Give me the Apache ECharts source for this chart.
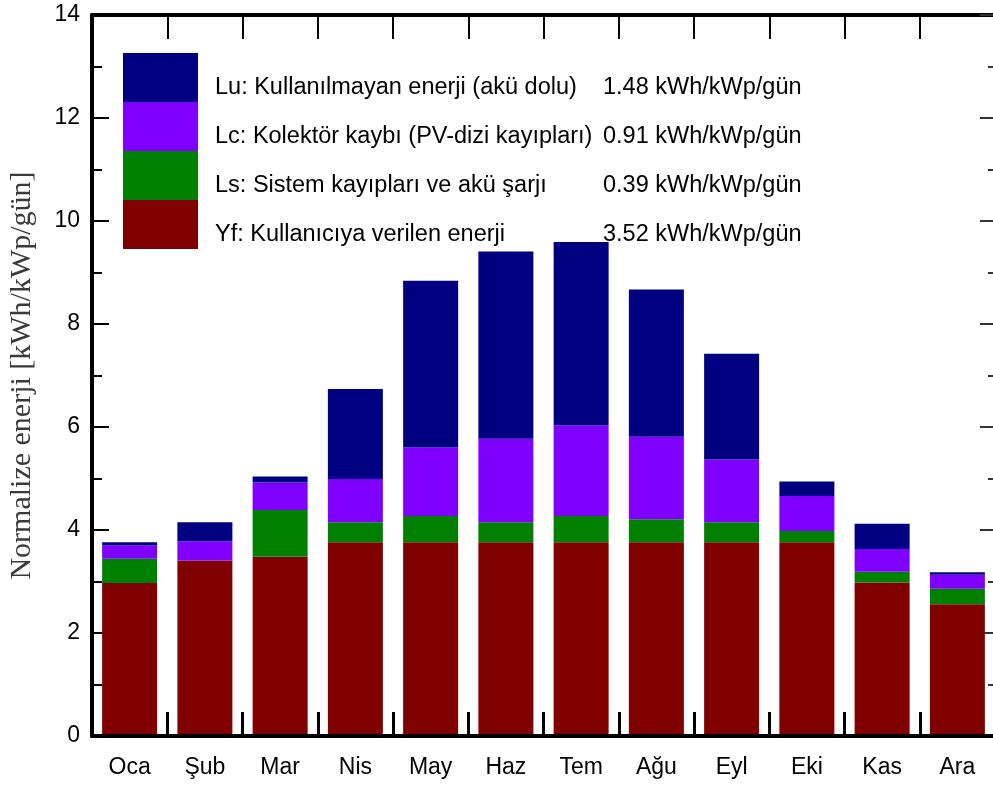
<!DOCTYPE html>
<html>
<head>
<meta charset="utf-8">
<script src="https://cdn.jsdelivr.net/npm/echarts@6/dist/echarts.min.js"></script>
<style>
  html, body { margin: 0; padding: 0; background: #fff; }
  #chart { width: 993px; height: 789px; }
</style>
</head>
<body>
<div id="chart"></div>
<script>
// aylar
const months = ["Oca", "Şub", "Mar", "Nis", "May", "Haz", "Tem", "Ağu", "Eyl", "Eki", "Kas", "Ara"];

// seri isimleri ve yillik ortalama degerler (lejant)
const seriesNames = [
  "Yf: Kullanıcıya verilen enerji",
  "Ls: Sistem kayıpları ve akü şarjı",
  "Lc: Kolektör kaybı (PV-dizi kayıpları)",
  "Lu: Kullanılmayan enerji (akü dolu)",
];
const seriesAvg = ["3.52", "0.39", "0.91", "1.48"];
const seriesColors = ["#800000", "#008000", "#8000ff", "#000080"];

// yigin degerleri (kWh/kWp/gün)
const yfData = [2.97, 3.41, 3.48, 3.76, 3.76, 3.76, 3.76, 3.76, 3.76, 3.76, 2.98, 2.56];
const lsData = [0.47, 0.00, 0.91, 0.39, 0.51, 0.39, 0.51, 0.45, 0.39, 0.22, 0.21, 0.30];
const lcData = [0.26, 0.37, 0.53, 0.84, 1.33, 1.62, 1.76, 1.60, 1.22, 0.68, 0.44, 0.27];
const luData = [0.06, 0.37, 0.12, 1.75, 3.24, 3.64, 3.56, 2.86, 2.05, 0.28, 0.49, 0.05];

const yTicks = { min: 0, max: 14, interval: 2 };

const allData = [yfData, lsData, lcData, luData];

const font = "'Liberation Sans', Arial, sans-serif";

const chart = echarts.init(document.getElementById("chart"));

const option = {
  animation: false,
  backgroundColor: "#fff",
  textStyle: { fontFamily: font },
  grid: {
    left: 92,
    right: -2,
    top: 15,
    bottom: 53,
    containLabel: false,
    outerBoundsMode: "none",
  },
  legend: {
    orient: "vertical",
    left: 118,
    top: 48,
    icon: "rect",
    itemWidth: 75,
    itemHeight: 49,
    itemGap: 0,
    selectedMode: false,
    data: seriesNames.slice().reverse(),
    formatter: function (name) {
      const i = seriesNames.indexOf(name);
      return "{a|" + name + "}{b|" + seriesAvg[i] + " kWh/kWp/gün}";
    },
    textStyle: {
      fontFamily: font,
      fontSize: 23.5,
      color: "#000",
      padding: [20, 0, 0, 12],
      rich: {
        a: { width: 388, fontSize: 23.5, fontFamily: font, color: "#000" },
        b: { fontSize: 23.5, fontFamily: font, color: "#000" },
      },
    },
  },
  xAxis: [
    {
      type: "category",
      data: months,
      position: "bottom",
      z: 10,
      axisLine: { onZero: false, lineStyle: { color: "#000", width: 4 } },
      axisTick: { show: true, inside: true, alignWithLabel: false, length: 24, lineStyle: { color: "#000", width: 3 } },
      axisLabel: { color: "#000", fontSize: 23, margin: 20, fontFamily: font },
    },
    {
      type: "category",
      data: months,
      position: "top",
      axisLine: { onZero: false, lineStyle: { color: "#000", width: 4 } },
      axisTick: { show: true, inside: true, length: 24, lineStyle: { color: "#000", width: 2 } },
      axisLabel: { show: false },
    },
  ],
  yAxis: [
    {
      type: "value",
      min: yTicks.min,
      max: yTicks.max,
      interval: yTicks.interval,
      position: "left",
      name: "Normalize enerji [kWh/kWp/gün]",
      nameLocation: "middle",
      nameGap: 55,
      nameTextStyle: {
        fontFamily: "'Liberation Serif', 'Times New Roman', serif",
        fontSize: 30,
        color: "#3a3a3a",
      },
      axisLine: { show: true, onZero: false, lineStyle: { color: "#000", width: 4 } },
      axisTick: { show: true, inside: true, length: 17, lineStyle: { color: "#000", width: 2 } },
      minorTick: { show: true, splitNumber: 2, length: 10, lineStyle: { color: "#000", width: 2 } },
      splitLine: { show: false },
      axisLabel: { color: "#000", fontSize: 23, margin: 12, fontFamily: font },
    },
    {
      type: "value",
      min: yTicks.min,
      max: yTicks.max,
      interval: yTicks.interval,
      position: "right",
      axisLine: { show: true, onZero: false, lineStyle: { color: "#bbb", width: 1 } },
      axisTick: { show: true, inside: true, length: 15, lineStyle: { color: "#333", width: 2 } },
      minorTick: { show: true, splitNumber: 2, length: 7, lineStyle: { color: "#333", width: 2 } },
      splitLine: { show: false },
      axisLabel: { show: false },
    },
  ],
  series: seriesNames.map(function (name, i) {
    return {
      name: name,
      type: "bar",
      stack: "total",
      barWidth: 55,
      color: seriesColors[i],
      data: allData[i],
    };
  }),
};

chart.setOption(option);
</script>
</body>
</html>
